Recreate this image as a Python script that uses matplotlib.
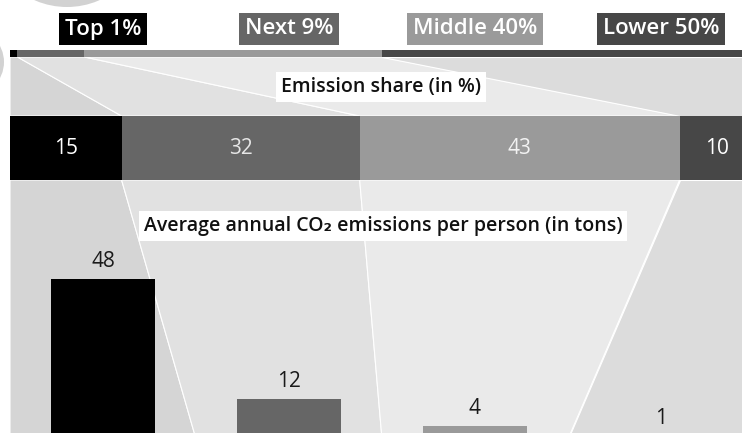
import matplotlib
matplotlib.use("Agg")
import matplotlib.pyplot as plt
from matplotlib.patches import Polygon, Rectangle, Circle
import numpy as np

# ---- data ----
groups = ["Top 1%", "Next 9%", "Middle 40%", "Lower 50%"]
population_share = [1, 9, 40, 50]          # % of population
emission_share = [15, 32, 43, 10]          # % of emissions
per_capita_tons = [48, 12, 4, 1]           # t CO2 per person per year
emission_title = "Emission share (in %)"
percap_title = "Average annual CO\u2082 emissions per person (in tons)"

# ---- style ----
group_colors = ["#000000", "#666666", "#9a9a9a", "#474747"]
fan_colors = ["#d5d5d5", "#e1e1e1", "#eaeaea", "#dcdcdc"]
value_text_colors = ["#ffffff", "#e6e6e6", "#f2f2f2", "#ffffff"]
FONT = ["Open Sans", "DejaVu Sans"]

W, H = 742, 433
fig = plt.figure(figsize=(W / 100, H / 100), dpi=100)
fig.patch.set_facecolor("white")

# main canvas axes in pixel coordinates
ax = fig.add_axes([0, 0, 1, 1])
ax.set_xlim(0, W)
ax.set_ylim(H, 0)
ax.axis("off")

x0 = 10.0
full_w = 744.0
scale = full_w / 100.0
pop_y0, pop_y1 = 50, 57
em_y0, em_y1 = 116, 180
base_y = 439
px_per_ton = 120.0 / 36.0

pop_edges = x0 + np.concatenate([[0], np.cumsum(population_share)]) * scale
em_edges = x0 + np.concatenate([[0], np.cumsum(emission_share)]) * scale
n = len(groups)
cat_edges = x0 + np.arange(n + 1) * full_w / n
cat_centers = (cat_edges[:-1] + cat_edges[1:]) / 2

# decorative circles
ax.add_patch(Circle((67, -74), 81, facecolor="#d2d2d2", edgecolor="none", zorder=0))
ax.add_patch(Circle((-30, 62), 34, facecolor="#d2d2d2", edgecolor="none", zorder=0))

# fans
for i in range(n):
    upper = [(pop_edges[i], pop_y1), (pop_edges[i + 1], pop_y1),
             (em_edges[i + 1], em_y0), (em_edges[i], em_y0)]
    ax.add_patch(Polygon(upper, closed=True, facecolor=fan_colors[i],
                         edgecolor="white", linewidth=0.8, zorder=1))
    lower = [(em_edges[i], em_y1), (em_edges[i + 1], em_y1),
             (cat_edges[i + 1], base_y), (cat_edges[i], base_y)]
    ax.add_patch(Polygon(lower, closed=True, facecolor=fan_colors[i],
                         edgecolor="white", linewidth=0.8, zorder=1))

# population bar and emission bar
for i in range(n):
    ax.add_patch(Rectangle((pop_edges[i], pop_y0), pop_edges[i + 1] - pop_edges[i],
                           pop_y1 - pop_y0, facecolor=group_colors[i],
                           edgecolor="none", zorder=2))
    ax.add_patch(Rectangle((em_edges[i], em_y0), em_edges[i + 1] - em_edges[i],
                           em_y1 - em_y0, facecolor=group_colors[i],
                           edgecolor="none", zorder=2))
    ax.text((em_edges[i] + em_edges[i + 1]) / 2, (em_y0 + em_y1) / 2 + 1,
            str(emission_share[i]), color=value_text_colors[i], fontsize=15,
            ha="center", va="center", family=FONT, zorder=3)

# group labels
for i in range(n):
    ax.text(cat_centers[i], 29, groups[i], color="white", fontsize=16,
            weight="semibold", ha="center", va="center", family=FONT, zorder=3,
            bbox=dict(boxstyle="square,pad=0.26", facecolor=group_colors[i],
                      edgecolor="none"))

# section titles
ax.text(381, 87, emission_title, color="#111111", fontsize=14,
        weight="semibold", ha="center", va="center", family=FONT, zorder=3,
        bbox=dict(boxstyle="square,pad=0.25", facecolor="white", edgecolor="none"))
ax.text(383, 226, percap_title, color="#111111", fontsize=14,
        weight="semibold", ha="center", va="center", family=FONT, zorder=3,
        bbox=dict(boxstyle="square,pad=0.25", facecolor="white", edgecolor="none"))

# per capita bar chart (own axes in tons)
ymax = 60
ax_h_px = ymax * px_per_ton
bax = fig.add_axes([x0 / W, (H - base_y) / H, full_w / W, ax_h_px / H])
bax.set_xlim(-0.5, n - 0.5)
bax.set_ylim(0, ymax)
bax.axis("off")
bax.patch.set_alpha(0)
bw = 104.0 / (full_w / n)
xs = np.arange(n)
bax.bar(xs, per_capita_tons, width=bw, color=group_colors, zorder=2)
for xi, v in zip(xs, per_capita_tons):
    bax.annotate(str(v), (xi, v), xytext=(0, 5), textcoords="offset points",
                 ha="center", va="bottom", fontsize=15, color="#1a1a1a",
                 family=FONT)

fig.savefig("out.png", dpi=100, facecolor="white")
